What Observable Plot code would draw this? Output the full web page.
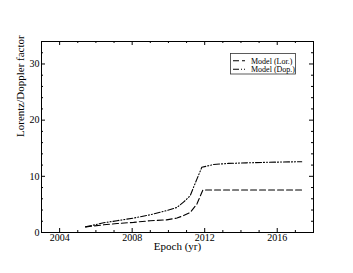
<!DOCTYPE html>
<html><head><meta charset="utf-8">
<script src="https://cdn.jsdelivr.net/npm/d3@7"></script>
<script src="https://cdn.jsdelivr.net/npm/@observablehq/plot@0.6"></script>
<style>body{margin:0;background:#fff} #chart svg{font-family:"Liberation Serif",serif;display:block}</style>
</head><body><div id="chart"></div><script>
// Data
const lorYears  = [2005.43, 2006.43, 2007.17, 2008.08, 2009.0, 2009.9, 2010.47, 2010.83, 2011.2, 2011.38, 2011.57, 2011.9, 2012.5, 2014.0, 2016.0, 2017.35];
const lorValues = [1.0,     1.37,    1.6,     1.8,     2.1,    2.25,   2.57,    3.0,     3.57,   4.3,     5.07,    7.57,   7.57,   7.57,   7.57,   7.57];
const dopYears  = [2005.43, 2006.43, 2007.17, 2008.08, 2009.0, 2009.9, 2010.47, 2010.83, 2011.2, 2011.38, 2011.57, 2011.84, 2012.48, 2013.3, 2014.3, 2015.5, 2017.35];
const dopValues = [1.0,     1.73,    2.1,     2.57,    3.16,   3.9,    4.46,    5.4,     6.55,   8.0,     9.5,     11.6,    12.1,    12.3,   12.4,   12.5,   12.6];
const xMajorTicks = [2004, 2008, 2012, 2016];
const xMinorTicks = [2005, 2006, 2007, 2009, 2010, 2011, 2013, 2014, 2015, 2017];
const yMajorTicks = [0, 10, 20, 30];
const yMinorTicks = [2, 4, 6, 8, 12, 14, 16, 18, 22, 24, 26, 28, 32];
const xLabel = "Epoch (yr)";
const yLabel = "Lorentz/Doppler factor";
const seriesNames = ["Model (Lor.)", "Model (Dop.)"];
const dashLor = "6,3";
const dashDop = "6,2,1,2,1,2";

const W = 353, H = 273, mL = 41, mR = 40, mT = 41, mB = 41;
const innerW = W - mL - mR, innerH = H - mT - mB;
const lor = lorYears.map((x, i) => ({x, y: lorValues[i]}));
const dop = dopYears.map((x, i) => ({x, y: dopValues[i]}));

const chart = Plot.plot({
  width: W, height: H,
  marginLeft: mL, marginRight: mR, marginTop: mT, marginBottom: mB,
  style: {fontFamily: "Liberation Serif, serif", fontSize: "10px", background: "white", color: "black"},
  x: {domain: [2003, 2018]},
  y: {domain: [0, 34]},
  marks: [
    Plot.axisX(xMajorTicks, {tickSize: 0, tickPadding: 1, tickFormat: d => String(d), label: null, fontSize: 10}),
    Plot.axisY(yMajorTicks, {tickSize: 0, tickPadding: 2, label: null, fontSize: 10}),
    // inward ticks on all four sides
    Plot.tickX(xMajorTicks, {x: d => d, insetTop: innerH - 4, stroke: "black"}),
    Plot.tickX(xMajorTicks, {x: d => d, insetBottom: innerH - 4, stroke: "black"}),
    Plot.tickX(xMinorTicks, {x: d => d, insetTop: innerH - 2, stroke: "black"}),
    Plot.tickX(xMinorTicks, {x: d => d, insetBottom: innerH - 2, stroke: "black"}),
    Plot.tickY(yMajorTicks, {y: d => d, insetRight: innerW - 4, stroke: "black"}),
    Plot.tickY(yMajorTicks, {y: d => d, insetLeft: innerW - 4, stroke: "black"}),
    Plot.tickY(yMinorTicks, {y: d => d, insetRight: innerW - 2, stroke: "black"}),
    Plot.tickY(yMinorTicks, {y: d => d, insetLeft: innerW - 2, stroke: "black"}),
    Plot.line(lor, {x: "x", y: "y", stroke: "black", strokeWidth: 1.1, strokeDasharray: dashLor}),
    Plot.line(dop, {x: "x", y: "y", stroke: "black", strokeWidth: 1.1, strokeDasharray: dashDop}),
    Plot.frame({stroke: "black", strokeWidth: 1}),
    Plot.text([xLabel], {frameAnchor: "bottom", dy: 17.5, fontSize: 11, text: d => d}),
    Plot.text([yLabel], {frameAnchor: "left", dx: -21, rotate: -90, fontSize: 11, text: d => d})
  ]
});
document.getElementById("chart").append(chart);

// legend box inside the frame
const svg = d3.select(chart);
const lg = svg.append("g").attr("text-anchor", "start");
lg.append("rect").attr("x", 230.5).attr("y", 53.5).attr("width", 65).attr("height", 20.5)
  .attr("fill", "white").attr("stroke", "#333").attr("stroke-width", 0.8);
const rows = [{name: seriesNames[0], dash: dashLor, y: 60.7}, {name: seriesNames[1], dash: dashDop, y: 69.3}];
rows.forEach(r => {
  lg.append("line").attr("x1", 233).attr("x2", 245).attr("y1", r.y).attr("y2", r.y)
    .attr("stroke", "black").attr("stroke-width", 1.1).attr("stroke-dasharray", r.dash);
  lg.append("text").attr("x", 251).attr("y", r.y).attr("dy", "0.35em").attr("text-anchor", "start")
    .attr("font-size", 8).attr("fill", "black").text(r.name);
});
</script></body></html>
